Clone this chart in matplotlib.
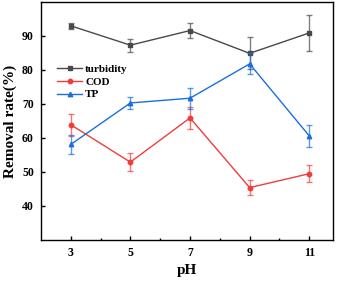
import matplotlib
matplotlib.use("Agg")
import matplotlib.pyplot as plt
import numpy as np

ph = [3, 5, 7, 9, 11]

turbidity     = [93.0, 87.3, 91.6, 84.9, 90.9]
turbidity_err = [0.9, 1.9, 2.3, 4.7, 5.2]
cod           = [63.9, 52.9, 65.9, 45.4, 49.5]
cod_err       = [3.2, 2.6, 3.2, 2.2, 2.5]
tp            = [58.1, 70.3, 71.7, 81.8, 60.6]
tp_err        = [2.7, 1.9, 3.1, 3.1, 3.2]

plt.rcParams["font.family"] = ["Liberation Serif", "DejaVu Serif"]
plt.rcParams["font.weight"] = "bold"

fig = plt.figure(figsize=(3.41, 2.84), dpi=100)
ax = fig.add_axes([0.120, 0.155, 0.857, 0.838])

series = [
    ("turbidity", turbidity, turbidity_err, "#494949", "s"),
    ("COD", cod, cod_err, "#f23c3c", "o"),
    ("TP", tp, tp_err, "#1c6ee0", "^"),
]
for name, vals, err, col, mk in series:
    ax.errorbar(ph, vals, yerr=err, fmt="none", ecolor=col, alpha=0.7,
                elinewidth=1.0, capsize=2.5, capthick=1.0)
    ax.plot(ph, vals, color=col, marker=mk, markersize=3.2,
            linewidth=1.0, label=name)

ax.set_xlim(2, 11.8)
ax.set_ylim(30, 100)
ax.set_xticks(ph)
ax.set_xticks([4, 6, 8, 10], minor=True)
ax.set_yticks([40, 50, 60, 70, 80, 90])
ax.tick_params(direction="in", length=3, width=1, labelsize=8.5, pad=5)
ax.tick_params(which="minor", direction="in", length=1.5, width=1)
for s in ax.spines.values():
    s.set_linewidth(1.0)

ax.set_xlabel("pH", fontsize=11, fontweight="bold", labelpad=4)
ax.set_ylabel("Removal rate(%)", fontsize=11, fontweight="bold", labelpad=4)

ax.legend(loc="upper left", bbox_to_anchor=(0.03, 0.77), frameon=False,
          fontsize=8, handlelength=2.2, handletextpad=0.3, labelspacing=0.25,
          borderaxespad=0.3)

fig.savefig("out.png", dpi=100)
